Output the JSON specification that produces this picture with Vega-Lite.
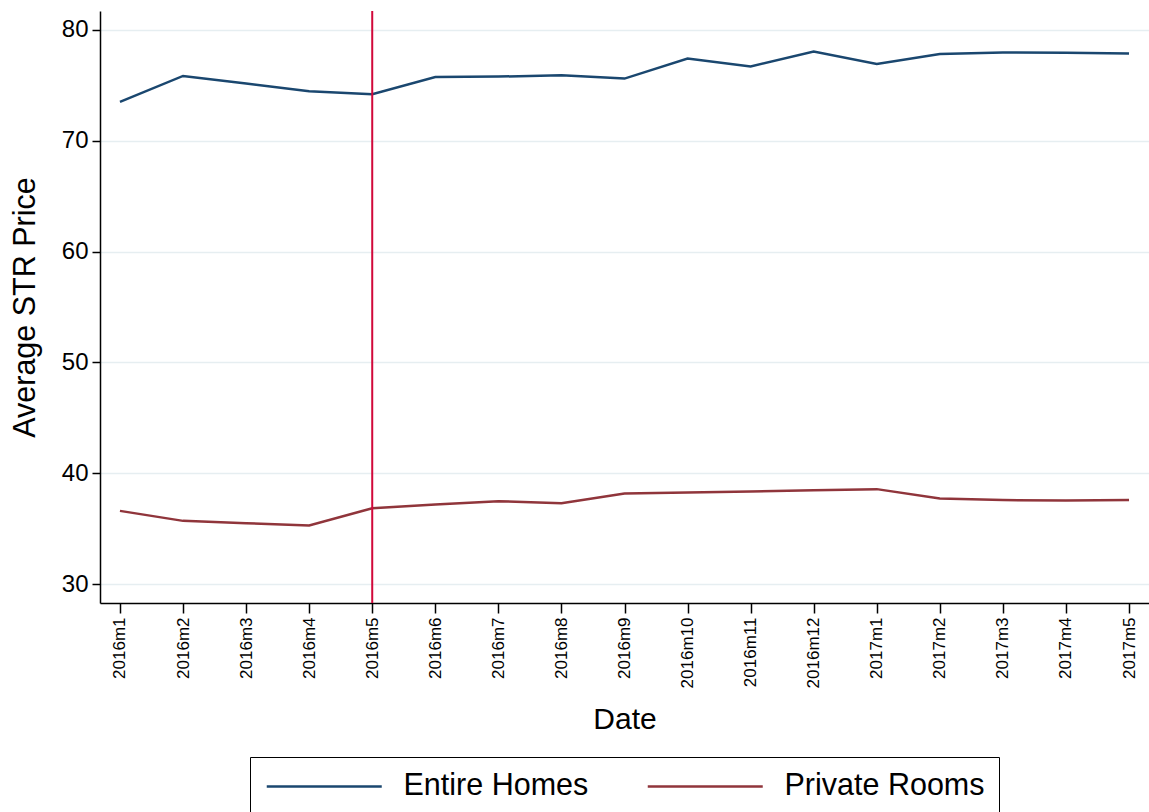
{
  "$schema": "https://vega.github.io/schema/vega-lite/v6.json",
  "autosize": {"type": "none"},
  "padding": {"left": 100, "top": 11, "right": 0, "bottom": 209},
  "width": 1049,
  "height": 592,
  "background": "white",
  "config": {
    "view": {"stroke": null},
    "font": "Liberation Sans"
  },
  "data": {
    "values": [
      {"date": "2016m1", "type": "Entire Homes", "price": 73.48},
      {"date": "2016m2", "type": "Entire Homes", "price": 75.82},
      {"date": "2016m3", "type": "Entire Homes", "price": 75.14},
      {"date": "2016m4", "type": "Entire Homes", "price": 74.44},
      {"date": "2016m5", "type": "Entire Homes", "price": 74.17},
      {"date": "2016m6", "type": "Entire Homes", "price": 75.73},
      {"date": "2016m7", "type": "Entire Homes", "price": 75.76},
      {"date": "2016m8", "type": "Entire Homes", "price": 75.88},
      {"date": "2016m9", "type": "Entire Homes", "price": 75.58},
      {"date": "2016m10", "type": "Entire Homes", "price": 77.39},
      {"date": "2016m11", "type": "Entire Homes", "price": 76.67},
      {"date": "2016m12", "type": "Entire Homes", "price": 78.02},
      {"date": "2017m1", "type": "Entire Homes", "price": 76.90},
      {"date": "2017m2", "type": "Entire Homes", "price": 77.80},
      {"date": "2017m3", "type": "Entire Homes", "price": 77.93},
      {"date": "2017m4", "type": "Entire Homes", "price": 77.90},
      {"date": "2017m5", "type": "Entire Homes", "price": 77.84},
      {"date": "2016m1", "type": "Private Rooms", "price": 36.63},
      {"date": "2016m2", "type": "Private Rooms", "price": 35.73},
      {"date": "2016m3", "type": "Private Rooms", "price": 35.52},
      {"date": "2016m4", "type": "Private Rooms", "price": 35.32},
      {"date": "2016m5", "type": "Private Rooms", "price": 36.87},
      {"date": "2016m6", "type": "Private Rooms", "price": 37.21},
      {"date": "2016m7", "type": "Private Rooms", "price": 37.50},
      {"date": "2016m8", "type": "Private Rooms", "price": 37.32},
      {"date": "2016m9", "type": "Private Rooms", "price": 38.20},
      {"date": "2016m10", "type": "Private Rooms", "price": 38.29},
      {"date": "2016m11", "type": "Private Rooms", "price": 38.38},
      {"date": "2016m12", "type": "Private Rooms", "price": 38.50},
      {"date": "2017m1", "type": "Private Rooms", "price": 38.59},
      {"date": "2017m2", "type": "Private Rooms", "price": 37.75},
      {"date": "2017m3", "type": "Private Rooms", "price": 37.60},
      {"date": "2017m4", "type": "Private Rooms", "price": 37.57},
      {"date": "2017m5", "type": "Private Rooms", "price": 37.62}
    ]
  },
  "layer": [
    {
      "mark": {"type": "line", "strokeWidth": 2.5},
      "encoding": {
        "x": {
          "field": "date",
          "type": "ordinal",
          "sort": ["2016m1","2016m2","2016m3","2016m4","2016m5","2016m6","2016m7","2016m8","2016m9","2016m10","2016m11","2016m12","2017m1","2017m2","2017m3","2017m4","2017m5"],
          "scale": {"type": "point", "padding": 0.3165},
          "axis": {
            "title": "Date",
            "titleFontSize": 30,
            "titleFontWeight": "normal",
            "titleColor": "black",
            "titlePadding": 17,
            "labelAngle": -90,
            "labelFontSize": 17,
            "labelColor": "black",
            "labelPadding": 4,
            "tickSize": 10,
            "tickColor": "black",
            "tickWidth": 1.5,
            "domainColor": "black",
            "domainWidth": 1.5,
            "grid": false
          }
        },
        "y": {
          "field": "price",
          "type": "quantitative",
          "scale": {"domain": [28.33, 81.67], "nice": false, "zero": false},
          "axis": {
            "title": "Average STR Price",
            "titleFontSize": 30.5,
            "titleFontWeight": "normal",
            "titleColor": "black",
            "titlePadding": 21,
            "values": [30, 40, 50, 60, 70, 80],
            "labelFontSize": 24,
            "labelColor": "black",
            "labelPadding": 4,
            "tickSize": 8,
            "tickColor": "black",
            "tickWidth": 1.5,
            "domainColor": "black",
            "domainWidth": 1.5,
            "grid": true,
            "gridColor": "#e6eef1",
            "gridWidth": 1.5
          }
        },
        "color": {
          "field": "type",
          "type": "nominal",
          "scale": {"domain": ["Entire Homes", "Private Rooms"], "range": ["#1a476f", "#90353b"]},
          "legend": {
            "title": null,
            "orient": "none",
            "legendX": 150,
            "legendY": 746,
            "direction": "horizontal",
            "strokeColor": "black",
            "fillColor": "white",
            "padding": 14,
            "symbolType": "M-5,0H5",
            "symbolSize": 529,
            "symbolOffset": 45,
            "symbolStrokeWidth": 2.5,
            "labelFontSize": 30.5,
            "labelColor": "black",
            "labelOffset": 64,
            "labelLimit": 400,
            "columnPadding": 53
          }
        }
      }
    },
    {
      "transform": [{"filter": "datum.date == '2016m5' && datum.type == 'Entire Homes'"}],
      "mark": {"type": "rule", "color": "#d1083a", "strokeWidth": 2},
      "encoding": {
        "x": {
          "field": "date",
          "type": "ordinal",
          "sort": ["2016m1","2016m2","2016m3","2016m4","2016m5","2016m6","2016m7","2016m8","2016m9","2016m10","2016m11","2016m12","2017m1","2017m2","2017m3","2017m4","2017m5"]
        }
      }
    }
  ]
}
